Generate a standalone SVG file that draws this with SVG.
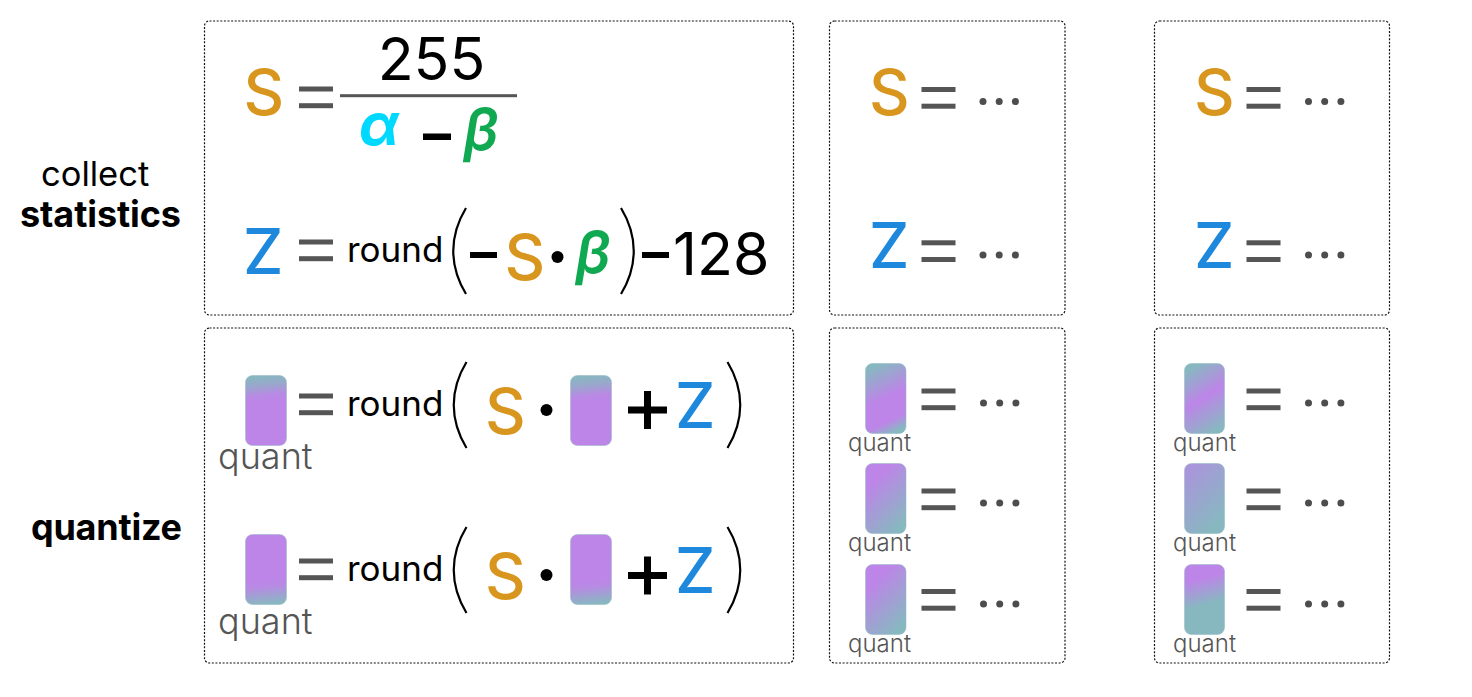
<svg xmlns="http://www.w3.org/2000/svg" width="1472" height="697" viewBox="0 0 1472 697">
<style>
text{font-family:Inter,"Liberation Sans",sans-serif}
.box{fill:#fff;stroke:#111;stroke-width:1.2;stroke-dasharray:2 1.6}
.eq{fill:#555}
.s{font-size:63px;fill:#d8961e;font-weight:450}
.z{font-size:63px;fill:#1e88dc;font-weight:500}
.num{font-size:59px;fill:#000}
.rd{font-size:35px;fill:#000}
.gk{font-size:58px;font-weight:600;font-style:italic}
.ql{font-size:36px;fill:#555;font-weight:300}
.qs{font-size:24px;fill:#555;font-weight:300}
.lab{font-size:34.500px;fill:#000}
.bd{font-size:36px;fill:#000;font-weight:700}
.par{fill:none;stroke:#000;stroke-width:2.2}
.dd{fill:#4d4d4d}
.cell{stroke:#8fb9c2;stroke-opacity:.5;stroke-width:1}
</style>
<defs>
<linearGradient id="g1" x1=".47" y1="0" x2=".53" y2="1"><stop offset="0" stop-color="#87b8c0"/><stop offset=".14" stop-color="#9aa6cc"/><stop offset=".28" stop-color="#b88ae4"/><stop offset=".38" stop-color="#bd85e8"/><stop offset="1" stop-color="#bd85e8"/></linearGradient>
<linearGradient id="g2" x1=".47" y1="0" x2=".53" y2="1"><stop offset="0" stop-color="#bd85e8"/><stop offset=".64" stop-color="#bd85e8"/><stop offset=".74" stop-color="#b88ae4"/><stop offset="1" stop-color="#87b8c0"/></linearGradient>
<linearGradient id="g3" x1=".36" y1="0" x2=".64" y2="1"><stop offset="0" stop-color="#87b8c0"/><stop offset=".48" stop-color="#bd85e8"/><stop offset=".82" stop-color="#bd85e8"/><stop offset="1" stop-color="#87b8c0"/></linearGradient>
<linearGradient id="g4" x1=".2" y1="0" x2=".8" y2="1"><stop offset="0" stop-color="#bd85e8"/><stop offset=".2" stop-color="#bd85e8"/><stop offset=".95" stop-color="#87b8c0"/></linearGradient>
<linearGradient id="g5" x1=".32" y1="0" x2=".68" y2="1"><stop offset="0" stop-color="#87b8c0"/><stop offset=".48" stop-color="#bd85e8"/><stop offset="1" stop-color="#87b8c0"/></linearGradient>
<linearGradient id="g6" x1=".2" y1="0" x2=".8" y2="1"><stop offset="0" stop-color="#ab94dc"/><stop offset=".9" stop-color="#87b8c0"/></linearGradient>
<linearGradient id="g7" x1=".42" y1="0" x2=".58" y2="1"><stop offset="0" stop-color="#bd85e8"/><stop offset=".2" stop-color="#bd85e8"/><stop offset=".58" stop-color="#87b8c0"/><stop offset="1" stop-color="#87b8c0"/></linearGradient>
<g id="eq"><rect x="0" y="0" width="34" height="5"/><rect x="0" y="16.700" width="34" height="5"/></g>
<g id="dots"><circle cx="0" cy="0" r="3.500"/><circle cx="16.200" cy="0" r="3.500"/><circle cx="32.400" cy="0" r="3.500"/></g>
<path id="lp" d="M13 0C-4 28-4 58 13 86"/>
<path id="rp" d="M0 0C17 28 17 58 0 86"/>
</defs>
<g id="label-collect">
<text class="lab" x="41" y="186">collect</text>
<text class="bd" x="20" y="227" textLength="161">statistics</text>
</g>
<g id="label-quantize">
<text class="bd" x="31" y="540" textLength="151">quantize</text>
</g>

<g id="stats-main">
<rect class="box" x="204.500" y="21" width="589" height="294" rx="5"/>
<text class="s" x="243.500" y="115">S</text>
<use href="#eq" class="eq" x="299" y="86.500"/>
<rect x="340" y="94.200" width="177" height="3" fill="#555"/>
<text class="num" x="431.500" y="80" text-anchor="middle">255</text>
<text class="gk" x="359" y="145" fill="#00d9ff" style="font-weight:700">α</text>
<rect x="423" y="133.500" width="28" height="6.500" fill="#000"/>
<text class="gk" x="463.500" y="150" fill="#10a850">β</text>
<text class="z" x="243" y="274">Z</text>
<use href="#eq" class="eq" x="299" y="239.500"/>
<text class="rd" x="347" y="262">round</text>
<use href="#lp" class="par" x="453" y="208"/>
<rect x="470" y="252" width="27" height="6" fill="#000"/>
<text class="s" x="504.500" y="280">S</text>
<circle cx="557.500" cy="257" r="6" fill="#000"/>
<text class="gk" x="575.500" y="273" fill="#10a850">β</text>
<use href="#rp" class="par" x="621" y="208"/>
<rect x="642" y="252" width="27" height="6" fill="#000"/>
<text class="num" x="673" y="275">128</text>
</g>

<g id="stats-b">
<rect class="box" x="829.500" y="21" width="235.500" height="294" rx="5"/>
<text class="s" x="869" y="115">S</text>
<use href="#eq" class="eq" x="921.500" y="87"/>
<use href="#dots" class="dd" x="983" y="101.500"/>
<text class="z" x="869" y="268">Z</text>
<use href="#eq" class="eq" x="921.500" y="240.300"/>
<use href="#dots" class="dd" x="983" y="255"/>
</g>
<g id="stats-c">
<rect class="box" x="1154.500" y="21" width="235" height="294" rx="5"/>
<text class="s" x="1194" y="115">S</text>
<use href="#eq" class="eq" x="1246.500" y="87"/>
<use href="#dots" class="dd" x="1308.500" y="101.500"/>
<text class="z" x="1194" y="268">Z</text>
<use href="#eq" class="eq" x="1246.500" y="240.300"/>
<use href="#dots" class="dd" x="1308.500" y="255"/>
</g>

<g id="quant-main">
<rect class="box" x="204.500" y="328" width="589" height="335" rx="5"/>
<rect class="cell" x="245.500" y="375.500" width="41" height="70" rx="7" fill="url(#g1)"/>
<text class="ql" x="218" y="468.500">quant</text>
<use href="#eq" class="eq" x="299" y="393.500"/>
<text class="rd" x="347" y="416">round</text>
<use href="#lp" class="par" x="453.500" y="362"/>
<text class="s" x="485" y="433.500">S</text>
<circle cx="546.500" cy="410" r="6" fill="#000"/>
<rect class="cell" x="570.500" y="375.500" width="41" height="70" rx="7" fill="url(#g1)"/>
<path d="M628 410H667M647.500 391V429" stroke="#000" stroke-width="7" fill="none"/>
<text class="z" x="675" y="428">Z</text>
<use href="#rp" class="par" x="727.500" y="362"/>

<rect class="cell" x="245.500" y="534.500" width="41" height="70" rx="7" fill="url(#g2)"/>
<text class="ql" x="218" y="633.500">quant</text>
<use href="#eq" class="eq" x="299" y="558.500"/>
<text class="rd" x="347" y="581">round</text>
<use href="#lp" class="par" x="453.500" y="527"/>
<text class="s" x="485" y="598.500">S</text>
<circle cx="546.500" cy="575" r="6" fill="#000"/>
<rect class="cell" x="570.500" y="534.500" width="41" height="70" rx="7" fill="url(#g2)"/>
<path d="M628 575.500H667M647.500 556.500V594.500" stroke="#000" stroke-width="7" fill="none"/>
<text class="z" x="675" y="593">Z</text>
<use href="#rp" class="par" x="727.500" y="527"/>
</g>

<g id="quant-b">
<rect class="box" x="829.500" y="328" width="235.500" height="335" rx="5"/>
<rect class="cell" x="865.500" y="363.500" width="40.500" height="70" rx="7" fill="url(#g3)"/>
<text class="qs" x="848" y="451">quant</text>
<use href="#eq" class="eq" x="921.500" y="388.500"/>
<use href="#dots" class="dd" x="983.500" y="403"/>
<rect class="cell" x="865.500" y="463.500" width="40.500" height="70" rx="7" fill="url(#g4)"/>
<text class="qs" x="848" y="551">quant</text>
<use href="#eq" class="eq" x="921.500" y="488.500"/>
<use href="#dots" class="dd" x="983.500" y="503"/>
<rect class="cell" x="865.500" y="564.500" width="40.500" height="70" rx="7" fill="url(#g4)"/>
<text class="qs" x="848" y="652">quant</text>
<use href="#eq" class="eq" x="921.500" y="589"/>
<use href="#dots" class="dd" x="983.500" y="604"/>
</g>
<g id="quant-c">
<rect class="box" x="1154.500" y="328" width="235" height="335" rx="5"/>
<rect class="cell" x="1184.500" y="363.500" width="40" height="70" rx="7" fill="url(#g5)"/>
<text class="qs" x="1173" y="451">quant</text>
<use href="#eq" class="eq" x="1246.500" y="388.500"/>
<use href="#dots" class="dd" x="1308.500" y="403"/>
<rect class="cell" x="1184.500" y="463.500" width="40" height="70" rx="7" fill="url(#g6)"/>
<text class="qs" x="1173" y="551">quant</text>
<use href="#eq" class="eq" x="1246.500" y="488.500"/>
<use href="#dots" class="dd" x="1308.500" y="503"/>
<rect class="cell" x="1184.500" y="564.500" width="40" height="70" rx="7" fill="url(#g7)"/>
<text class="qs" x="1173" y="652">quant</text>
<use href="#eq" class="eq" x="1246.500" y="589"/>
<use href="#dots" class="dd" x="1308.500" y="604"/>
</g>
</svg>
